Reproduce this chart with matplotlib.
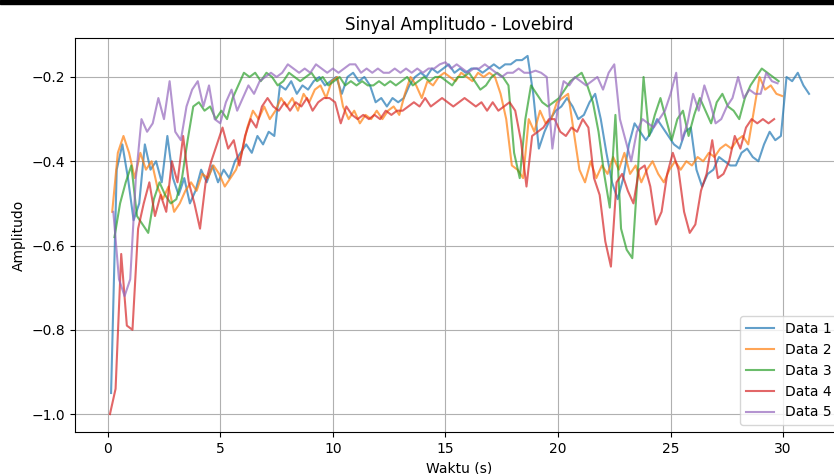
import numpy as np
import matplotlib
matplotlib.use("Agg")
import matplotlib.pyplot as plt
from matplotlib.patches import Rectangle

# sampling step of the traces (s)
DT = 0.25

labels = ['Data 1', 'Data 2', 'Data 3', 'Data 4', 'Data 5']
t_start = [0.15, 0.2, 0.3, 0.1, 0.25]

data1 = [-0.95, -0.42, -0.36, -0.44, -0.54, -0.5, -0.36, -0.42, -0.4, -0.45,
         -0.34, -0.44, -0.48, -0.44, -0.5, -0.47, -0.42, -0.45, -0.41, -0.45,
         -0.42, -0.44, -0.4, -0.38, -0.36, -0.38, -0.34, -0.36, -0.33, -0.34,
         -0.22, -0.23, -0.21, -0.24, -0.22, -0.23, -0.21, -0.2, -0.22, -0.21,
         -0.2, -0.24, -0.2, -0.19, -0.21, -0.2, -0.22, -0.26, -0.25, -0.27,
         -0.25, -0.26, -0.25, -0.22, -0.2, -0.19, -0.2, -0.18, -0.19, -0.18,
         -0.17, -0.19, -0.18, -0.19, -0.18, -0.18, -0.19, -0.18, -0.17, -0.18,
         -0.17, -0.17, -0.16, -0.16, -0.15, -0.24, -0.37, -0.33, -0.3, -0.28,
         -0.27, -0.25, -0.27, -0.3, -0.29, -0.26, -0.24, -0.3, -0.38, -0.45,
         -0.49, -0.44, -0.36, -0.31, -0.33, -0.35, -0.33, -0.3, -0.32, -0.34,
         -0.36, -0.37, -0.33, -0.32, -0.42, -0.46, -0.43, -0.42, -0.39, -0.4,
         -0.41, -0.41, -0.38, -0.37, -0.39, -0.4, -0.36, -0.33, -0.35, -0.34,
         -0.2, -0.21, -0.19, -0.22, -0.24]

data2 = [-0.52, -0.38, -0.34, -0.38, -0.44, -0.38, -0.42, -0.4, -0.46, -0.49,
         -0.46, -0.52, -0.5, -0.47, -0.45, -0.47, -0.43, -0.44, -0.41, -0.43,
         -0.46, -0.44, -0.42, -0.38, -0.32, -0.28, -0.3, -0.27, -0.3, -0.28,
         -0.25, -0.27, -0.25, -0.28, -0.24, -0.26, -0.23, -0.22, -0.25, -0.21,
         -0.2, -0.27, -0.3, -0.28, -0.31, -0.29, -0.3, -0.28, -0.3, -0.28,
         -0.27, -0.29, -0.24, -0.2, -0.22, -0.25, -0.21, -0.22, -0.2, -0.19,
         -0.2, -0.21, -0.19, -0.2, -0.21, -0.19, -0.2, -0.19, -0.2, -0.24,
         -0.3, -0.41, -0.42, -0.44, -0.3, -0.33, -0.28, -0.31, -0.3, -0.26,
         -0.25, -0.24, -0.33, -0.42, -0.45, -0.4, -0.44, -0.41, -0.43, -0.39,
         -0.42, -0.38, -0.43, -0.41, -0.45, -0.42, -0.4, -0.43, -0.45, -0.42,
         -0.4, -0.42, -0.4, -0.41, -0.39, -0.4, -0.38, -0.39, -0.37, -0.36,
         -0.37, -0.35, -0.34, -0.36, -0.28, -0.2, -0.23, -0.22, -0.24, -0.245]

data3 = [-0.58, -0.5, -0.45, -0.41, -0.53, -0.55, -0.57, -0.49, -0.45, -0.48,
         -0.5, -0.49, -0.44, -0.35, -0.27, -0.26, -0.28, -0.27, -0.3, -0.28,
         -0.3, -0.25, -0.22, -0.19, -0.2, -0.19, -0.21, -0.19, -0.2, -0.22,
         -0.21, -0.19, -0.2, -0.21, -0.2, -0.19, -0.21, -0.2, -0.22, -0.21,
         -0.2, -0.22, -0.21, -0.22, -0.21, -0.22, -0.22, -0.21, -0.22, -0.21,
         -0.22, -0.21, -0.2, -0.22, -0.21, -0.2, -0.21, -0.2, -0.2, -0.21,
         -0.22, -0.2, -0.2, -0.19, -0.21, -0.23, -0.22, -0.2, -0.19, -0.2,
         -0.22, -0.38, -0.44, -0.3, -0.22, -0.24, -0.26, -0.27, -0.26, -0.25,
         -0.23, -0.21, -0.2, -0.19, -0.22, -0.26, -0.33, -0.43, -0.51, -0.29,
         -0.56, -0.61, -0.63, -0.42, -0.2, -0.34, -0.29, -0.25, -0.3, -0.35,
         -0.3, -0.28, -0.34, -0.29, -0.25, -0.28, -0.31, -0.26, -0.24, -0.27,
         -0.28, -0.3, -0.25, -0.22, -0.2, -0.18, -0.19, -0.2, -0.21]

data4 = [-1.0, -0.94, -0.62, -0.79, -0.8, -0.56, -0.5, -0.45, -0.53, -0.48,
         -0.52, -0.4, -0.45, -0.34, -0.45, -0.5, -0.56, -0.45, -0.4, -0.36,
         -0.32, -0.37, -0.35, -0.41, -0.34, -0.3, -0.32, -0.27, -0.25, -0.27,
         -0.28, -0.26, -0.28, -0.26, -0.27, -0.25, -0.28, -0.26, -0.25, -0.25,
         -0.26, -0.31, -0.27, -0.29, -0.3, -0.29, -0.3, -0.29, -0.3, -0.28,
         -0.29, -0.28, -0.28, -0.27, -0.26, -0.27, -0.25, -0.27, -0.26, -0.25,
         -0.26, -0.27, -0.26, -0.25, -0.26, -0.27, -0.26, -0.28, -0.26, -0.28,
         -0.27, -0.26, -0.28, -0.35, -0.46, -0.34, -0.33, -0.32, -0.3, -0.3,
         -0.33, -0.34, -0.32, -0.33, -0.3, -0.32, -0.44, -0.48, -0.59, -0.65,
         -0.45, -0.43, -0.47, -0.5, -0.42, -0.41, -0.46, -0.55, -0.52, -0.43,
         -0.38, -0.42, -0.52, -0.57, -0.55, -0.47, -0.43, -0.35, -0.44, -0.43,
         -0.4, -0.34, -0.37, -0.32, -0.3, -0.31, -0.3, -0.31, -0.3]

data5 = [-0.52, -0.68, -0.72, -0.68, -0.44, -0.3, -0.33, -0.31, -0.25, -0.3,
         -0.21, -0.33, -0.35, -0.27, -0.23, -0.21, -0.27, -0.22, -0.3, -0.31,
         -0.26, -0.23, -0.28, -0.25, -0.22, -0.24, -0.21, -0.2, -0.19, -0.2,
         -0.19, -0.17, -0.18, -0.19, -0.18, -0.19, -0.17, -0.18, -0.19, -0.18,
         -0.19, -0.18, -0.17, -0.17, -0.19, -0.18, -0.19, -0.18, -0.19, -0.19,
         -0.18, -0.19, -0.18, -0.19, -0.18, -0.19, -0.18, -0.18, -0.17, -0.165,
         -0.18, -0.17, -0.18, -0.19, -0.18, -0.18, -0.17, -0.18, -0.19, -0.2,
         -0.19, -0.19, -0.18, -0.19, -0.19, -0.185, -0.19, -0.2, -0.37, -0.27,
         -0.21, -0.22, -0.2, -0.21, -0.22, -0.21, -0.2, -0.23, -0.19, -0.17,
         -0.3, -0.35, -0.4, -0.33, -0.3, -0.31, -0.32, -0.3, -0.28, -0.24,
         -0.19, -0.35, -0.31, -0.24, -0.28, -0.22, -0.26, -0.31, -0.3, -0.27,
         -0.25, -0.2, -0.25, -0.23, -0.24, -0.24, -0.19, -0.21, -0.215]

series = [data1, data2, data3, data4, data5]

fig = plt.figure(figsize=(8.34, 4.74), dpi=100)
# axes runs slightly past the right edge (the source image is cropped)
ax = fig.add_axes([75/834, 42/474, 769/834, 394/474])

for lab, t0, vals in zip(labels, t_start, series):
    t = t0 + DT * np.arange(len(vals))
    ax.plot(t, vals, label=lab, alpha=0.7)

ax.set_title('Sinyal Amplitudo - Lovebird')
ax.set_xlabel('Waktu (s)')
ax.set_ylabel('Amplitudo')
ax.legend(loc='lower right')
ax.grid(True)

# dark strip along the top of the screenshot
fig.add_artist(Rectangle((0, 1 - 4/474), 1, 4/474, transform=fig.transFigure,
                         color='black', zorder=10))

fig.savefig('out.png', dpi=100)
